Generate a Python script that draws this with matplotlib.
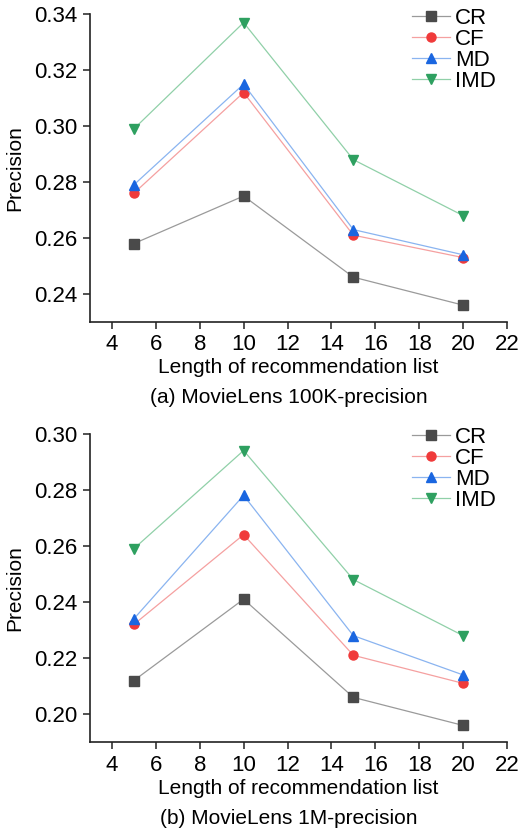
import matplotlib
matplotlib.use("Agg")
import matplotlib.pyplot as plt

plt.rcParams['font.family'] = ['Liberation Sans', 'DejaVu Sans']

# === Data ===
lengths = [5, 10, 15, 20]
methods = ["CR", "CF", "MD", "IMD"]

# MovieLens 100K
cr_100k = [0.258, 0.275, 0.246, 0.236]
cf_100k = [0.276, 0.312, 0.261, 0.253]
md_100k = [0.279, 0.315, 0.263, 0.254]
imd_100k = [0.299, 0.337, 0.288, 0.268]

# MovieLens 1M
cr_1m = [0.212, 0.241, 0.206, 0.196]
cf_1m = [0.232, 0.264, 0.221, 0.211]
md_1m = [0.234, 0.278, 0.228, 0.214]
imd_1m = [0.259, 0.294, 0.248, 0.228]

x_ticks = [4, 6, 8, 10, 12, 14, 16, 18, 20, 22]

# === Styles ===
markers = ["s", "o", "^", "v"]
mcolors = ["#4a4a4a", "#f03a3a", "#1a66e0", "#2ea060"]
lcolors = ["#9a9a9a", "#f5a0a0", "#8ab4f0", "#90d0a8"]

fig = plt.figure(figsize=(5.2, 8.34), dpi=100)
ax1 = fig.add_axes([0.173, 0.614, 0.802, 0.369])
ax2 = fig.add_axes([0.173, 0.110, 0.802, 0.370])

def draw(ax, series, ylim, yticks, caption, cap_y):
    for vals, name, m, mc, lc in zip(series, methods, markers, mcolors, lcolors):
        ax.plot(lengths, vals, color=lc, lw=0.9, marker=m, markersize=6.5,
                markerfacecolor=mc, markeredgecolor=mc, label=name)
    ax.set_xlim(3, 22)
    ax.set_ylim(*ylim)
    ax.set_xticks(x_ticks)
    ax.set_yticks(yticks)
    ax.set_yticklabels([f"{v:.2f}" for v in yticks])
    ax.spines['top'].set_visible(False)
    ax.spines['right'].set_visible(False)
    for s in ['left', 'bottom']:
        ax.spines[s].set_linewidth(1.2)
        ax.spines[s].set_color("#222222")
    ax.spines['left'].set_bounds(ylim[0], yticks[-1])
    ax.tick_params(direction='out', length=5, width=1.1, labelsize=16, color="#222222", pad=4)
    ax.set_xlabel("Length of recommendation list", fontsize=15, labelpad=2)
    ax.set_ylabel("Precision", fontsize=15, labelpad=7)
    fig.text(0.555, cap_y, caption, ha='center', va='center', fontsize=15)
    ax.legend(loc='upper right', bbox_to_anchor=(1.005, 1.065), frameon=False, fontsize=16,
              handlelength=1.75, handletextpad=0.2, labelspacing=0.0, borderaxespad=0.2)

draw(ax1, [cr_100k, cf_100k, md_100k, imd_100k], (0.23, 0.34),
     [0.24, 0.26, 0.28, 0.30, 0.32, 0.34], "(a) MovieLens 100K-precision", 0.523)
draw(ax2, [cr_1m, cf_1m, md_1m, imd_1m], (0.19, 0.30),
     [0.20, 0.22, 0.24, 0.26, 0.28, 0.30], "(b) MovieLens 1M-precision", 0.018)

fig.savefig("out.png", dpi=100)
